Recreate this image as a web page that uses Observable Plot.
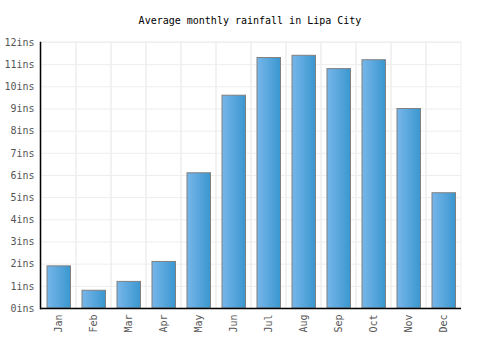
<!DOCTYPE html>
<html>
<head>
<meta charset="utf-8">
<script src="https://cdn.jsdelivr.net/npm/d3@7"></script>
<script src="https://cdn.jsdelivr.net/npm/@observablehq/plot@0.6"></script>
<style>
  body { margin: 0; background: #fff; }
  #title { height: 30px; box-sizing: border-box; padding-top: 15px; line-height: 13px; text-align: center; font: 10px "DejaVu Sans Mono", monospace; color: #000; width: 500px; }
  svg { display: block; }
</style>
</head>
<body>
<div id="title">Average monthly rainfall in Lipa City</div>
<div id="chart"></div>
<script>
const months = ["Jan","Feb","Mar","Apr","May","Jun","Jul","Aug","Sep","Oct","Nov","Dec"];
const rainfall = [1.9, 0.8, 1.2, 2.1, 6.1, 9.6, 11.3, 11.4, 10.8, 11.2, 9.0, 5.2];
const yTicks = [0,1,2,3,4,5,6,7,8,9,10,11,12];

const data = months.map((m, i) => ({month: m, value: rainfall[i]}));

const chart = Plot.plot({
  width: 500,
  height: 320,
  marginTop: 12,
  marginBottom: 42,
  marginLeft: 40,
  marginRight: 39,
  style: {fontFamily: "'DejaVu Sans Mono', monospace", fontSize: "10px", color: "#555", background: "#fff"},
  x: {domain: months, padding: 0, label: null, tickSize: 0, tickPadding: 6, tickRotate: -90},
  y: {domain: [0, 12], ticks: yTicks, label: null, tickSize: 0, tickPadding: 6, tickFormat: d => d + "ins"},
  marks: [
    Plot.gridY(yTicks, {stroke: "#eee", strokeOpacity: 1}),
    Plot.barY(months, {x: d => d, y1: 0, y2: 12, fill: "none", stroke: "#eee", strokeWidth: 1}),
    Plot.barY(data, {x: "month", y: "value", fill: "url(#barGrad)", stroke: "#808080", strokeWidth: 1, insetLeft: 6, insetRight: 5.5}),
    Plot.ruleY([0], {stroke: "#000", strokeWidth: 1.5}),
    Plot.frame({anchor: "left", stroke: "#000", strokeWidth: 1.5})
  ]
});

const ns = "http://www.w3.org/2000/svg";
const defs = document.createElementNS(ns, "defs");
const grad = document.createElementNS(ns, "linearGradient");
grad.setAttribute("id", "barGrad");
grad.setAttribute("x1", "0"); grad.setAttribute("x2", "1");
grad.setAttribute("y1", "0"); grad.setAttribute("y2", "0");
[["0%", "#77b6ea"], ["100%", "#3a97cf"]].forEach(([o, c]) => {
  const s = document.createElementNS(ns, "stop");
  s.setAttribute("offset", o); s.setAttribute("stop-color", c);
  grad.appendChild(s);
});
defs.appendChild(grad);
chart.insertBefore(defs, chart.firstChild);
document.getElementById("chart").appendChild(chart);
</script>
</body>
</html>
